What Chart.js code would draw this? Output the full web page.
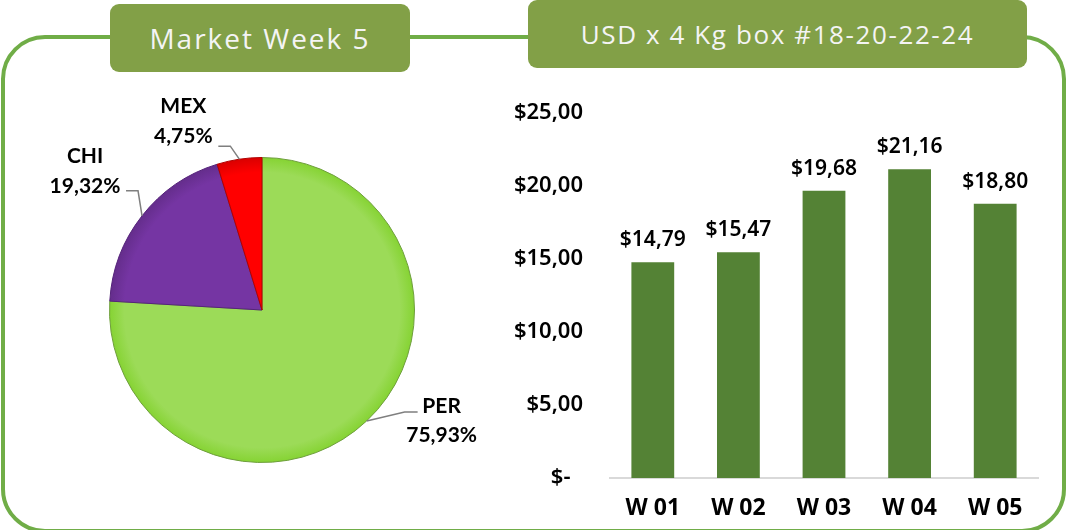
<!DOCTYPE html>
<html>
<head>
<meta charset="utf-8">
<script src="https://cdn.jsdelivr.net/npm/chart.js@4"></script>
<style>
  html, body { margin: 0; padding: 0; background: #fff; }
  body { width: 1070px; height: 530px; position: relative; overflow: hidden; }
  .frame {
    position: absolute; left: 1px; top: 35px; width: 1065px; height: 498px;
    box-sizing: border-box; border: 4px solid #70AD47; border-radius: 44px;
  }
  .tab {
    position: absolute; background: #82A047; color: #F4F4F4; border-radius: 9px;
    font-family: "Open Sans", sans-serif; display: flex; align-items: center; justify-content: center;
  }
  #tab-left { left: 110px; top: 4px; width: 300px; height: 68px; font-size: 28px; letter-spacing: 2px; }
  #tab-right { left: 528px; top: 0; width: 499px; height: 68px; font-size: 26px; letter-spacing: 1.6px; }
  canvas { position: absolute; }
  #pie-wrap { position: absolute; left: 0; top: 80px; width: 524px; height: 450px; }
  #bar-wrap { position: absolute; left: 490px; top: 73px; width: 560px; height: 457px; }
</style>
</head>
<body>
<div class="frame"></div>
<div id="pie-wrap"><canvas id="pie"></canvas></div>
<div id="bar-wrap"><canvas id="bar"></canvas></div>
<div class="tab" id="tab-left">Market Week 5</div>
<div class="tab" id="tab-right">USD x 4 Kg box #18-20-22-24</div>
<script>
// Market share, week 5 (pie) and weekly price per 4 kg box (bars).
const SHARE_LABELS = ["PER", "CHI", "MEX"];
const SHARE_VALUES = [75.93, 19.32, 4.75];
const SHARE_COLORS = ["#9CDB58", "#7535A3", "#FF0000"];

const WEEKS = ["W 01", "W 02", "W 03", "W 04", "W 05"];
const PRICES = [14.79, 15.47, 19.68, 21.16, 18.80];

const Y_MAX = 25;
const Y_STEP = 5;

const comma = (v, d) => v.toFixed(d).replace(".", ",");
const money = (v) => (v === 0 ? "$-\u2007" : "$" + comma(v, 2));

// leader line geometry per slice: elbow / end offsets from the rim point,
// and where the two-line label sits relative to the end of the leader
const LEADERS = [
  { elbow: [38, -9], end: [51, -9], text: [24, -6], gap: 29 },
  { elbow: [-4, -25], end: [-16, -25], text: [-41, -35], gap: 30 },
  { elbow: [-9, -13], end: [-21, -13], text: [-35, -40], gap: 30 },
];

const pieLabels = {
  id: "pieLabels",
  afterDatasetsDraw(chart) {
    const { ctx } = chart;
    const arcs = chart.getDatasetMeta(0).data;
    ctx.save();
    arcs.forEach((arc, i) => {
      const mid = (arc.startAngle + arc.endAngle) / 2;
      const px = arc.x + Math.cos(mid) * arc.outerRadius;
      const py = arc.y + Math.sin(mid) * arc.outerRadius;
      const L = LEADERS[i];
      ctx.strokeStyle = "#7F7F7F";
      ctx.lineWidth = 1.5;
      ctx.beginPath();
      ctx.moveTo(px, py);
      ctx.lineTo(px + L.elbow[0], py + L.elbow[1]);
      ctx.lineTo(px + L.end[0], py + L.end[1]);
      ctx.stroke();
      ctx.fillStyle = "#000";
      ctx.font = "bold 21px Lato";
      ctx.textAlign = "center";
      ctx.textBaseline = "middle";
      const tx = px + L.end[0] + L.text[0];
      const ty = py + L.end[1] + L.text[1];
      ctx.fillText(SHARE_LABELS[i], tx, ty);
      ctx.fillText(comma(SHARE_VALUES[i], 2) + "%", tx, ty + L.gap);
    });
    ctx.restore();
  },
};

const barValues = {
  id: "barValues",
  afterDatasetsDraw(chart) {
    const { ctx } = chart;
    ctx.save();
    ctx.fillStyle = "#000";
    ctx.font = "600 21px 'Noto Sans'";
    ctx.textAlign = "center";
    ctx.textBaseline = "middle";
    chart.getDatasetMeta(0).data.forEach((bar, i) => {
      ctx.fillText(money(PRICES[i]), bar.x, bar.y - 22);
    });
    ctx.restore();
  },
};

new Chart(document.getElementById("pie"), {
  type: "pie",
  data: {
    labels: SHARE_LABELS,
    datasets: [{
      data: SHARE_VALUES,
      backgroundColor: (c) => {
        const area = c.chart.chartArea;
        if (!area) return SHARE_COLORS[c.dataIndex];
        const cx = (area.left + area.right) / 2, cy = (area.top + area.bottom) / 2;
        const r = (area.right - area.left) / 2;
        const g = c.chart.ctx.createRadialGradient(cx, cy, 0, cx, cy, r);
        const base = SHARE_COLORS[c.dataIndex];
        g.addColorStop(0, base);
        g.addColorStop(0.9, base);
        g.addColorStop(1, Chart.helpers.color(base).darken(0.15).rgbString());
        return g;
      },
      borderColor: ["#6E9E3C", "#55237A", "#B00000"],
      borderWidth: 1,
    }],
  },
  options: {
    responsive: true,
    maintainAspectRatio: false,
    animation: false,
    layout: { padding: { left: 109, right: 109, top: 77, bottom: 67 } },
    plugins: { legend: { display: false }, tooltip: { enabled: false } },
  },
  plugins: [pieLabels],
});

new Chart(document.getElementById("bar"), {
  type: "bar",
  data: {
    labels: WEEKS,
    datasets: [{
      data: PRICES,
      backgroundColor: "#548235",
      barPercentage: 0.5,
      categoryPercentage: 1,
    }],
  },
  options: {
    responsive: true,
    maintainAspectRatio: false,
    animation: false,
    layout: { padding: { top: 0, right: 12, left: 0, bottom: 0 } },
    plugins: { legend: { display: false }, tooltip: { enabled: false } },
    scales: {
      x: {
        grid: { display: false, drawTicks: false },
        border: { display: true, color: "#D9D9D9", width: 2 },
        ticks: { color: "#000", padding: 17, font: { family: "Noto Sans", size: 23, weight: "bold" } },
        afterFit: (s) => { s.height = 52; },
      },
      y: {
        min: 0,
        max: Y_MAX,
        grid: { display: false, drawTicks: false },
        border: { display: false },
        ticks: {
          stepSize: Y_STEP,
          color: "#000",
          padding: 27,
          font: { family: "Noto Sans", size: 22, weight: "600" },
          callback: (v) => money(v),
        },
        afterFit: (s) => { s.width = 120; },
      },
    },
  },
  plugins: [barValues],
});
</script>
</body>
</html>
